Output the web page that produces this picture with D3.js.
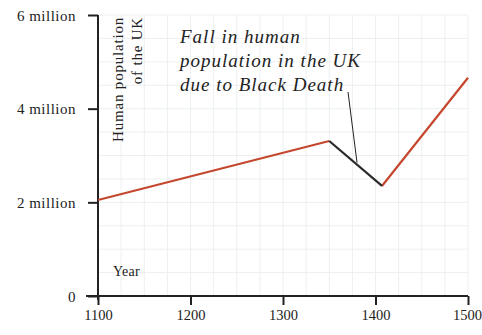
<!DOCTYPE html>
<head>
  <meta charset="utf-8">
  <script src="https://d3js.org/d3.v7.min.js"></script>
  <style>
    body { margin: 0; background: #fff; }
    text { font-family: "Liberation Serif", "DejaVu Serif", serif; fill: #222; }
  </style>
</head>
<body>
  <script>
    // data
    var years = [1100, 1350, 1407, 1500];
    var population = [2.05, 3.31, 2.35, 4.66]; // millions
    var plagueFrom = 1, plagueTo = 2; // segment drawn in black
    var yTicks = [0, 2, 4, 6];
    var yTickLabels = ["0", "2 million", "4 million", "6 million"];
    var xTicks = [1100, 1200, 1300, 1400, 1500];
    var note = ["Fall in human", "population in the UK", "due to Black Death"];

    var width = 482, height = 335;
    var svg = d3.select("body").append("svg")
      .attr("width", width).attr("height", height);

    var x = d3.scaleLinear().domain([1100, 1500]).range([98, 468]);
    var y = d3.scaleLinear().domain([0, 6]).range([296, 15]);

    // faint grid
    var grid = svg.append("g").attr("stroke", "#edf0f0").attr("stroke-width", 1);
    grid.selectAll("line.v")
      .data(d3.range(1125, 1501, 25))
      .enter().append("line")
      .attr("x1", d => x(d)).attr("x2", d => x(d))
      .attr("y1", y(6)).attr("y2", y(0));
    grid.selectAll("line.h")
      .data(d3.range(0.5, 6.01, 0.5))
      .enter().append("line")
      .attr("x1", x(1100)).attr("x2", x(1500))
      .attr("y1", d => y(d)).attr("y2", d => y(d));

    // axes
    var yAxis = d3.axisLeft(y).tickValues(yTicks)
      .tickFormat((d, i) => yTickLabels[i]).tickSize(10).tickPadding(12);
    var gy = svg.append("g").attr("transform", "translate(" + x(1100) + ",0)").call(yAxis);
    gy.select(".domain").remove();
    gy.append("line").attr("x1", 0).attr("x2", 0).attr("y1", y(6)).attr("y2", y(0) + 4)
      .attr("stroke", "#222").attr("stroke-width", 2);

    var xAxis = d3.axisBottom(x).tickValues(xTicks).tickFormat(d3.format("d"))
      .tickSize(9).tickPadding(5);
    var gx = svg.append("g").attr("transform", "translate(0," + y(0) + ")").call(xAxis);
    gx.select(".domain").remove();
    gx.append("line").attr("x1", x(1100) - 12).attr("x2", x(1500)).attr("y1", 0).attr("y2", 0)
      .attr("stroke", "#222").attr("stroke-width", 2);

    svg.selectAll(".tick line").attr("stroke", "#222").attr("stroke-width", 2);
    gy.selectAll(".tick text").style("font-size", "15px").style("letter-spacing", "0.5px")
      .attr("fill", "#222").attr("dy", "0.35em");
    gx.selectAll(".tick text").style("font-size", "14.5px").attr("fill", "#222");
    // last year label sits against the right edge, as in the reference
    gx.selectAll(".tick text").filter(d => d === 1500).attr("dx", -1);

    // axis titles
    var ylab = svg.append("text")
      .attr("transform", "translate(123," + (y(6) + 2) + ") rotate(-90)")
      .attr("text-anchor", "end").style("font-size", "15px").style("letter-spacing", "0.8px");
    ylab.append("tspan").attr("x", 0).attr("dy", 0).text("Human population");
    ylab.append("tspan").attr("x", 0).attr("dy", "1.25em").text("of the UK");

    svg.append("text").attr("x", 113).attr("y", 276).style("font-size", "14px")
      .style("letter-spacing", "0.3px").text("Year");

    // population line
    var pts = years.map((d, i) => [x(d), y(population[i])]);
    var line = d3.line();
    svg.append("path").attr("d", line(pts.slice(0, plagueFrom + 1)))
      .attr("fill", "none").attr("stroke", "#c4472e").attr("stroke-width", 2.2);
    svg.append("path").attr("d", line(pts.slice(plagueTo)))
      .attr("fill", "none").attr("stroke", "#c4472e").attr("stroke-width", 2.2);
    svg.append("path").attr("d", line(pts.slice(plagueFrom, plagueTo + 1)))
      .attr("fill", "none").attr("stroke", "#2a2a2a").attr("stroke-width", 2.2);

    // annotation
    svg.selectAll("text.note")
      .data(note)
      .enter().append("text")
      .attr("class", "note")
      .attr("x", 180).attr("y", (d, i) => 43 + i * 24)
      .style("font-size", "19px").style("font-style", "italic").style("letter-spacing", "1px")
      .text(d => d);
    svg.append("line")
      .attr("x1", 348).attr("y1", 92)
      .attr("x2", x(1380)).attr("y2", y(2.85))
      .attr("stroke", "#222").attr("stroke-width", 1);
  </script>
</body>
